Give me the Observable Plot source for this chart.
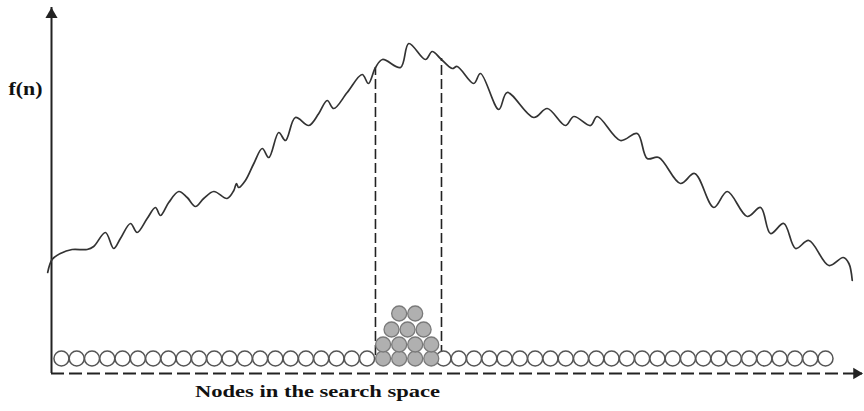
<!DOCTYPE html>
<html><head><meta charset="utf-8">
<script src="https://cdn.jsdelivr.net/npm/d3@7"></script>
<script src="https://cdn.jsdelivr.net/npm/@observablehq/plot@0.6"></script>
<style>body{margin:0;background:#fff}</style>
</head><body><div id="chart"></div>
<script>
// f(n) curve: position along the node row (node units) and value
const curveN = [-0.90,-0.61,-0.07,0.70,1.68,2.11,2.88,3.42,3.86,4.52,4.95,5.61,6.15,6.48,7.02,7.68,8.23,8.77,9.31,9.97,10.84,11.28,11.45,11.60,12.04,12.59,13.14,13.57,14.22,14.66,15.31,16.19,16.84,17.39,17.82,18.70,19.68,20.09,20.55,21.01,22.19,22.73,23.82,24.26,24.80,25.57,25.90,26.98,27.42,28.62,29.17,30.91,31.79,32.98,33.53,34.62,35.06,36.58,37.68,38.33,39.09,40.51,41.43,42.69,43.57,44.88,45.75,46.40,47.27,48.04,48.91,50.22,51.16,51.53,51.75];
const curveF = [101,114,120,124,124,127,141,125,135,150,141,155,166,158,171,182,176,167,175,182,175,183,190,186,193,210,225,216,241,233,256,248,260,273,265,281,299,290,306,314,306,330,314,322,315,305,307,290,300,264,281,256,265,248,257,248,257,233,240,215,216,190,200,166,182,157,166,140,150,125,133,108,116,110,93];

// node row (white circles), with the selected window removed
const whiteNodes = [0,1,2,3,4,5,6,7,8,9,10,11,12,13,14,15,16,17,18,19,20,25,26,27,28,29,30,31,32,33,34,35,36,37,38,39,40,41,42,43,44,45,46,47,48,49,50];
// stacked (grey) nodes inside the window
const grayNodeX =     [21.05,22.1,23.15,24.2, 21.05,22.1,23.15,24.2, 21.6,22.65,23.7, 22.1,23.15];
const grayNodeLevel = [0,0,0,0, 1,1,1,1, 2,2,2, 3,3];
const levelF = [15, 29, 44, 60];

// window (dashed verticals)
const windowN = [20.55, 24.87];
const windowTop = [306, 315];
const windowBottom = 18;

const xLabel = "Nodes in the search space";
const yLabel = "f(n)";
const xDomain = [-0.65, 52.42];
const yDomain = [0, 366];

const curve = curveN.map((n, i) => ({n, f: curveF[i]}));
const white = whiteNodes.map(n => ({n, f: levelF[0]}));
const gray = grayNodeX.map((n, i) => ({n, f: levelF[grayNodeLevel[i]]}));
const win = windowN.map((n, i) => ({n, top: windowTop[i], bottom: windowBottom}));
const yAxisLine = [{n: xDomain[0], f1: yDomain[0], f2: yDomain[1]}];
const yTip = [{n: xDomain[0], f: yDomain[1]}];
const xTip = [{n: xDomain[1], f: yDomain[0]}];

const ink = "#222";
const serif = "'Liberation Serif', 'DejaVu Serif', serif";

const chart = Plot.plot({
  width: 864,
  height: 411,
  marginLeft: 51,
  marginRight: 2,
  marginTop: 7,
  marginBottom: 38,
  x: {domain: xDomain, axis: null},
  y: {domain: yDomain, axis: null},
  style: {background: "#fff"},
  marks: [
    Plot.ruleY([0], {stroke: ink, strokeWidth: 1.8, strokeDasharray: "13,5"}),
    Plot.ruleX(yAxisLine, {x: "n", y1: "f1", y2: "f2", stroke: ink, strokeWidth: 2}),
    Plot.dot(yTip, {x: "n", y: "f", symbol: "triangle", r: 4.5, fill: ink, stroke: null, dy: 7}),
    Plot.dot(xTip, {x: "n", y: "f", symbol: "triangle", r: 4.2, fill: ink, stroke: null, rotate: 90, dx: -6}),
    Plot.ruleX(win, {x: "n", y1: "bottom", y2: "top", stroke: ink, strokeWidth: 1.6, strokeDasharray: "10,4"}),
    Plot.line(curve, {x: "n", y: "f", curve: "catmull-rom", stroke: "#333", strokeWidth: 1.7}),
    Plot.dot(white, {x: "n", y: "f", r: 7.5, fill: "#fff", stroke: "#555", strokeWidth: 1.5}),
    Plot.dot(gray, {x: "n", y: "f", r: 7.5, fill: "#b0b0b0", stroke: "#7a7a7a", strokeWidth: 1.3}),
    Plot.text([yLabel], {text: d => d, frameAnchor: "top-left", dx: -26, dy: 81, textAnchor: "middle", lineAnchor: "middle", fontSize: 19, fontWeight: "bold", fontFamily: serif, fill: "#111"}),
    Plot.text([xLabel], {text: d => d, frameAnchor: "bottom-left", dx: 266, dy: 18, textAnchor: "middle", lineAnchor: "middle", fontSize: 17, fontWeight: "bold", fontFamily: serif, fill: "#111"})
  ]
});
d3.select(chart).selectAll("text").each(function() {
  const t = this.textContent;
  if (t === xLabel) d3.select(this).attr("textLength", 245).attr("lengthAdjust", "spacingAndGlyphs");
  if (t === yLabel) d3.select(this).attr("textLength", 34).attr("lengthAdjust", "spacingAndGlyphs");
});
document.getElementById("chart").appendChild(chart);
</script>
</body></html>
